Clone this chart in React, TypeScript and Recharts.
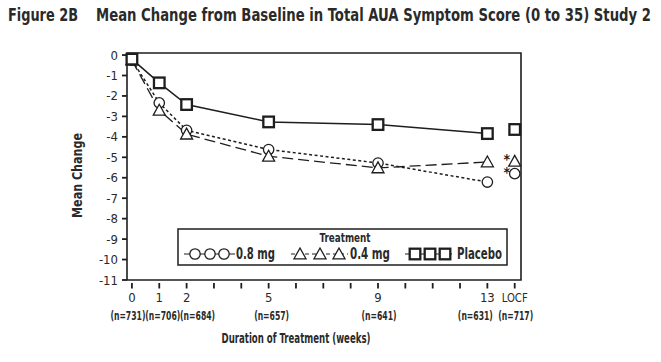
import React from 'react';
import { ComposedChart, Line, Scatter, XAxis, YAxis, ReferenceArea, Legend } from 'recharts';

const weeks = [0, 1, 2, 5, 9, 13];
const mg08 = [-0.25, -2.34, -3.68, -4.62, -5.28, -6.21];
const mg04 = [-0.25, -2.7, -3.87, -4.95, -5.52, -5.23];
const placebo = [-0.2, -1.36, -2.42, -3.27, -3.4, -3.84];
const locfWeek = 14;
const locf08 = -5.8;
const locf04 = -5.2;
const locfPlacebo = -3.64;
const xTicks = [0, 1, 2, 3, 4, 5, 6, 7, 8, 9, 10, 11, 12, 13, 14];
const xTickLabels: Record<number, string> = { 0: '0', 1: '1', 2: '2', 5: '5', 9: '9', 13: '13', 14: 'LOCF' };
const nLabels: Record<number, string> = { 0: '(n=731)', 1: '(n=706)', 2: '(n=684)', 5: '(n=657)', 9: '(n=641)', 13: '(n=631)', 14: '(n=717)' };
const yTicks = [0, -1, -2, -3, -4, -5, -6, -7, -8, -9, -10, -11];

const series = [
  { name: '0.8 mg', values: mg08, locf: locf08, marker: 'circle', dash: '3 2.5', width: 1.5 },
  { name: '0.4 mg', values: mg04, locf: locf04, marker: 'triangle', dash: '11 5', width: 1.3 },
  { name: 'Placebo', values: placebo, locf: locfPlacebo, marker: 'square', dash: undefined, width: 1.5 },
];

const INK = '#1e1e1e';
const TXT = '#2a2a2a';
const FONT = "'Liberation Sans Narrow', 'DejaVu Sans Condensed', 'Arial Narrow', sans-serif";

function Marker({ kind, cx, cy }: { kind: string; cx: number; cy: number }) {
  if (kind === 'circle') return <circle cx={cx} cy={cy} r={5.2} fill="#fff" stroke={INK} strokeWidth={1.3} />;
  if (kind === 'triangle') {
    const s = 6;
    return (
      <polygon
        points={`${cx},${cy - s} ${cx - s},${cy + s * 0.8} ${cx + s},${cy + s * 0.8}`}
        fill="#fff"
        stroke={INK}
        strokeWidth={1.3}
      />
    );
  }
  return <rect x={cx - 5.3} y={cy - 5.3} width={10.6} height={10.6} fill="#fff" stroke={INK} strokeWidth={2.3} />;
}

const makeDot = (kind: string) => (props: any) => {
  const { cx, cy, index } = props;
  if (cx == null || cy == null) return <g key={index} />;
  return <Marker key={index} kind={kind} cx={cx} cy={cy} />;
};

const makeLocfShape = (kind: string, star: boolean) => (props: any) => {
  const { cx, cy } = props;
  return (
    <g>
      {star && (
        <text x={cx - 8} y={cy + 3} fontFamily={FONT} fontWeight="bold" fontSize={14} fill={INK} textAnchor="middle">
          *
        </text>
      )}
      <Marker kind={kind} cx={cx} cy={cy} />
    </g>
  );
};

const nOffsets: Record<number, number> = { 0: -4, 1: 3.5, 2: 11, 5: 3, 9: 1, 13: -12, 14: 1 };

function XTick(props: any) {
  const { x, y, payload } = props;
  const v = payload.value as number;
  const label = xTickLabels[v];
  const n = nLabels[v];
  return (
    <g>
      <line x1={x} x2={x} y1={y + 3} y2={y + 8.5} stroke={INK} strokeWidth={1.8} />
      {label && (
        <text
          x={x}
          y={y + 22}
          textAnchor="middle"
          fontFamily={FONT}
          fontSize={13}
          fill={TXT}
          {...(label === 'LOCF' ? { textLength: 26, lengthAdjust: 'spacingAndGlyphs' } : {})}
        >
          {label}
        </text>
      )}
      {n && (
        <text
          x={x + (nOffsets[v] || 0)}
          y={y + 39.5}
          textAnchor="middle"
          fontFamily={FONT}
          fontWeight="bold"
          fontSize={12.5}
          fill={TXT}
          textLength={35}
          lengthAdjust="spacingAndGlyphs"
        >
          {n}
        </text>
      )}
    </g>
  );
}

function YTick(props: any) {
  const { x, y, payload } = props;
  return (
    <text x={x} y={y + 4.5} textAnchor="end" fontFamily={FONT} fontSize={13} fill={TXT}>
      {payload.value}
    </text>
  );
}

function LegendContent() {
  const entries = [
    { s: series[0], lineX: 184, m: [195, 210, 224], lineEnd: 235, textX: 236, tw: 39 },
    { s: series[1], lineX: 291, m: [300, 320, 339], lineEnd: 348, textX: 350, tw: 40 },
    { s: series[2], lineX: 405, m: [415, 430, 445], lineEnd: 452, textX: 457, tw: 45 },
  ];
  return (
    <svg width={331} height={38} style={{ display: 'block' }}>
      <g transform="translate(-177,-228)">
        <rect x={178} y={229} width={329} height={36} fill="#fff" stroke={INK} strokeWidth={1.5} />
        <text
          x={345}
          y={242}
          textAnchor="middle"
          fontFamily={FONT}
          fontWeight="bold"
          fontSize={13}
          fill={TXT}
          textLength={51}
          lengthAdjust="spacingAndGlyphs"
        >
          Treatment
        </text>
        {entries.map((e, i) => (
          <g key={i}>
            <line
              x1={e.lineX}
              x2={e.lineEnd}
              y1={254}
              y2={254}
              stroke={INK}
              strokeWidth={1.2}
              strokeDasharray={e.s.marker === 'triangle' ? '4 3' : undefined}
            />
            {e.m.map((mx, j) => (
              <Marker key={j} kind={e.s.marker} cx={mx} cy={254} />
            ))}
            <text
              x={e.textX}
              y={259}
              fontFamily={FONT}
              fontWeight="bold"
              fontSize={15}
              fill={TXT}
              textLength={e.tw}
              lengthAdjust="spacingAndGlyphs"
            >
              {e.s.name}
            </text>
          </g>
        ))}
      </g>
    </svg>
  );
}

export default function App() {
  return (
    <div style={{ position: 'absolute', left: 0, top: 0, width: 661, height: 362, background: '#fff' }}>
      <ComposedChart width={661} height={362} margin={{ top: 53, right: 140, bottom: 22, left: 0 }}>
        <text x={8} y={21} fontFamily={FONT} fontWeight="bold" fontSize={17} fill={TXT} textLength={70} lengthAdjust="spacingAndGlyphs">
          Figure 2B
        </text>
        <text x={96} y={21} fontFamily={FONT} fontWeight="bold" fontSize={17} fill={TXT} textLength={555} lengthAdjust="spacingAndGlyphs">
          Mean Change from Baseline in Total AUA Symptom Score (0 to 35) Study 2
        </text>
        <text
          x={0}
          y={0}
          transform="translate(82,175.5) rotate(-90)"
          textAnchor="middle"
          fontFamily={FONT}
          fontWeight="bold"
          fontSize={14.5}
          fill={TXT}
          textLength={85}
          lengthAdjust="spacingAndGlyphs"
        >
          Mean Change
        </text>
        <text
          x={296}
          y={343}
          textAnchor="middle"
          fontFamily={FONT}
          fontWeight="bold"
          fontSize={14}
          fill={TXT}
          textLength={149}
          lengthAdjust="spacingAndGlyphs"
        >
          Duration of Treatment (weeks)
        </text>
        <XAxis
          dataKey="week"
          type="number"
          domain={[-0.18, 14.23]}
          ticks={xTicks}
          interval={0}
          height={60}
          axisLine={false}
          tickLine={false}
          tickSize={0}
          tickMargin={0}
          tick={<XTick />}
          allowDuplicatedCategory={false}
        />
        <YAxis
          type="number"
          domain={[-11, 0.1]}
          ticks={yTicks}
          width={127}
          axisLine={false}
          tickLine={{ stroke: INK, strokeWidth: 1.8 }}
          tickSize={5}
          tickMargin={4}
          tick={<YTick />}
          interval={0}
        />
        <ReferenceArea y1={-11} y2={0.1} fill="none" stroke={INK} strokeWidth={1.6} ifOverflow="visible" />
        {series.map((s) => (
          <Line
            key={s.name}
            name={s.name}
            data={weeks.map((w, i) => ({ week: w, value: s.values[i] }))}
            dataKey="value"
            stroke={INK}
            strokeWidth={s.width}
            strokeDasharray={s.dash}
            dot={makeDot(s.marker)}
            activeDot={false}
            isAnimationActive={false}
            legendType="none"
          />
        ))}
        {series.map((s) => (
          <Scatter
            key={s.name + '-locf'}
            name={s.name + ' LOCF'}
            data={[{ week: locfWeek, value: s.locf }]}
            dataKey="value"
            shape={makeLocfShape(s.marker, s.marker !== 'square')}
            isAnimationActive={false}
            legendType="none"
          />
        ))}
        <Legend
          layout="horizontal"
          verticalAlign="middle"
          align="center"
          content={<LegendContent />}
          wrapperStyle={{ position: 'absolute', left: 177, top: 228, width: 331, height: 38 }}
        />
      </ComposedChart>
    </div>
  );
}
